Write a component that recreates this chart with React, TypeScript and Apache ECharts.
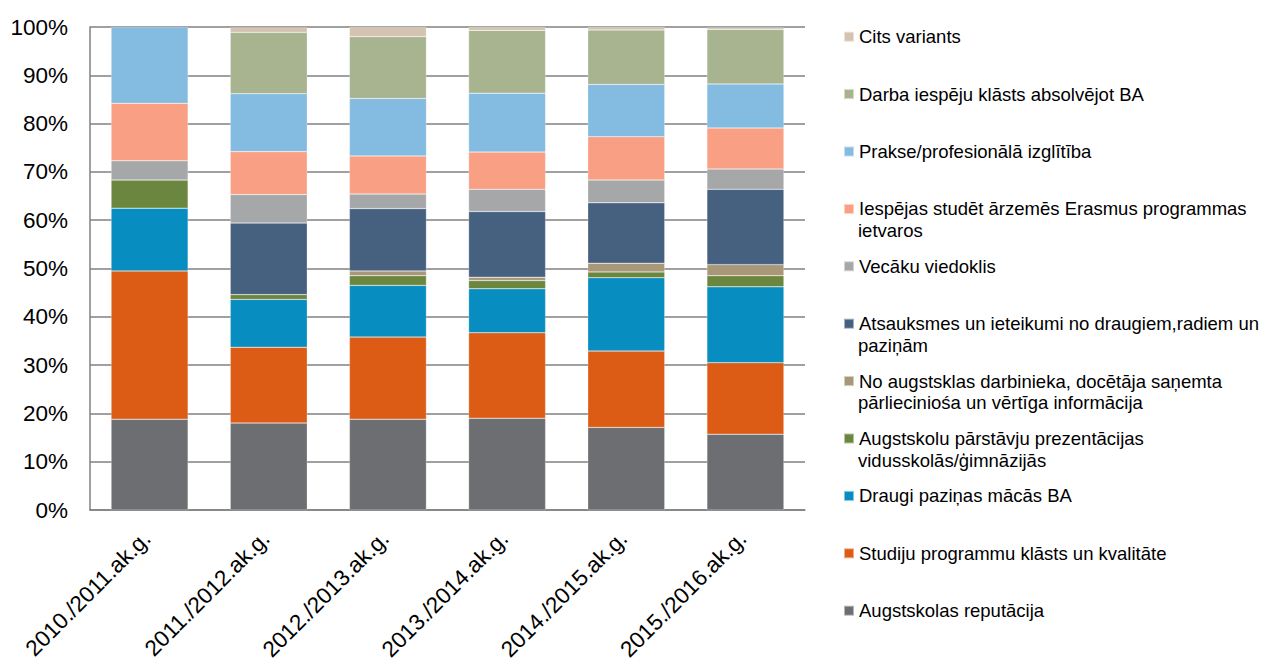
import React, { useEffect, useRef } from "react";
import * as echarts from "echarts";

const categories = [
  "2010./2011.ak.g.",
  "2011./2012.ak.g.",
  "2012./2013.ak.g.",
  "2013./2014.ak.g.",
  "2014./2015.ak.g.",
  "2015./2016.ak.g.",
];

const reputacija = [18.8, 18.0, 18.8, 19.0, 17.1, 15.7];
const studiju = [30.7, 15.7, 17.0, 17.7, 15.8, 14.8];
const draugi = [13.0, 9.9, 10.7, 9.1, 15.2, 15.7];
const prezentacijas = [5.8, 1.0, 2.0, 1.7, 1.2, 2.3];
const noAugstskolas = [0, 0, 1.0, 0.7, 1.8, 2.3];
const atsauksmes = [0, 14.8, 12.9, 13.6, 12.5, 15.6];
const vecaku = [4.0, 5.9, 3.0, 4.6, 4.7, 4.2];
const erasmus = [11.9, 8.9, 7.9, 7.7, 9.0, 8.5];
const prakse = [15.8, 12.0, 11.9, 12.2, 10.8, 9.1];
const darba = [0, 12.7, 12.8, 13.0, 11.3, 11.3];
const cits = [0, 1.0, 2.0, 0.7, 0.6, 0.4];

const yTicks = [0, 10, 20, 30, 40, 50, 60, 70, 80, 90, 100];

// bottom to top stacking order
const seriesDefs = [
  { name: "Augstskolas reputācija", lines: ["Augstskolas reputācija"], data: reputacija, color: "#6D6E71" },
  { name: "Studiju programmu klāsts un kvalitāte", lines: ["Studiju programmu klāsts un kvalitāte"], data: studiju, color: "#DD5C15" },
  { name: "Draugi paziņas mācās BA", lines: ["Draugi paziņas mācās BA"], data: draugi, color: "#078DC0" },
  { name: "Augstskolu pārstāvju prezentācijas vidusskolās/ģimnāzijās", lines: ["Augstskolu pārstāvju prezentācijas", "vidusskolās/ģimnāzijās"], data: prezentacijas, color: "#6B863F" },
  { name: "No augstsklas darbinieka, docētāja saņemta pārlieciniośa un vērtīga informācija", lines: ["No augstsklas darbinieka, docētāja saņemta", "pārlieciniośa un vērtīga informācija"], data: noAugstskolas, color: "#A99878" },
  { name: "Atsauksmes un ieteikumi no draugiem,radiem un paziņām", lines: ["Atsauksmes un ieteikumi no draugiem,radiem un", "paziņām"], data: atsauksmes, color: "#46607F" },
  { name: "Vecāku viedoklis", lines: ["Vecāku viedoklis"], data: vecaku, color: "#A6A7A9" },
  { name: "Iespējas studēt ārzemēs Erasmus programmas ietvaros", lines: ["Iespējas studēt ārzemēs Erasmus programmas", "ietvaros"], data: erasmus, color: "#F99F84" },
  { name: "Prakse/profesionālā izglītība", lines: ["Prakse/profesionālā izglītība"], data: prakse, color: "#83BBE1" },
  { name: "Darba iespēju klāsts absolvējot BA", lines: ["Darba iespēju klāsts absolvējot BA"], data: darba, color: "#A7B48F" },
  { name: "Cits variants", lines: ["Cits variants"], data: cits, color: "#D4C3B0" },
];

const FONT = "Liberation Sans, Arial, sans-serif";

export default function App() {
  const ref = useRef<HTMLDivElement>(null);

  useEffect(() => {
    document.body.style.margin = "0";
    if (!ref.current) return;
    const chart = echarts.init(ref.current, undefined, { renderer: "svg" });

    const legendTop0 = 36.7;
    const legendStep = 57.4;
    const legendFont = 18.5;
    const legendOrder = [...seriesDefs].reverse();

    const legends: any[] = [];
    const graphics: any[] = [];
    legendOrder.forEach((s, i) => {
      const cy = legendTop0 + i * legendStep;
      legends.push({
        data: [s.name],
        left: 843,
        top: cy - 11,
        padding: 0,
        itemWidth: 10,
        itemHeight: 10,
        icon: "rect",
        selectedMode: false,
        formatter: () => s.lines[0],
        textStyle: { fontSize: legendFont, lineHeight: 22, color: "#000", fontFamily: FONT },
      });
      if (s.lines.length > 1) {
        graphics.push({
          type: "text",
          x: 858,
          y: cy + 21.5,
          style: {
            text: s.lines[1],
            fontSize: legendFont,
            fontFamily: FONT,
            fill: "#000",
            verticalAlign: "middle",
          },
        });
      }
    });

    chart.setOption({
      animation: false,
      backgroundColor: "#ffffff",
      grid: {
        left: 90,
        top: 27,
        width: 715,
        height: 483,
        containLabel: false,
        outerBoundsMode: "none",
      },
      legend: legends,
      graphic: graphics,
      xAxis: {
        type: "category",
        data: categories,
        axisLine: { show: true, lineStyle: { color: "#808080", width: 1.5 } },
        axisTick: { show: false },
        axisLabel: {
          rotate: 45,
          margin: 22,
          padding: [0, 4, 0, 0],
          fontSize: 22.5,
          color: "#000",
          fontFamily: FONT,
          interval: 0,
        },
      },
      yAxis: {
        type: "value",
        min: yTicks[0],
        max: yTicks[yTicks.length - 1],
        interval: yTicks[1] - yTicks[0],
        axisLine: { show: true, lineStyle: { color: "#808080", width: 1.5 } },
        axisTick: { show: false },
        splitLine: { show: true, lineStyle: { color: "#808080", width: 1.5 } },
        axisLabel: {
          formatter: "{value}%",
          fontSize: 22.5,
          color: "#000",
          fontFamily: FONT,
          margin: 22,
        },
      },
      series: seriesDefs.map((s) => ({
        name: s.name,
        type: "bar",
        stack: "total",
        barWidth: 77,
        data: s.data.map((v) => (v === 0 ? "-" : v)),
        itemStyle: { color: s.color, borderColor: "rgba(255,255,255,0.5)", borderWidth: 0.5 },
        emphasis: { disabled: true },
      })),
    });

    return () => chart.dispose();
  }, []);

  return <div ref={ref} style={{ width: 1263, height: 664, position: "absolute", left: 0, top: 0 }} />;
}
